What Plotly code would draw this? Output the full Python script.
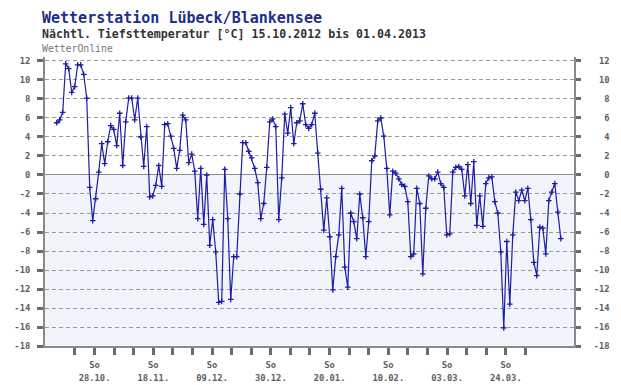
import pandas as pd
import plotly.graph_objects as go

# ---------------- data ----------------
START = "2012-10-15"
temps = [
    5.5, 5.8, 6.6, 11.7, 11.2, 8.7, 9.3, 11.6, 11.6, 10.6,
    8.1, -1.3, -4.8, -2.5, 0.3, 3.3, 1.2, 3.5, 5.2, 4.8,
    3.1, 6.5, 1.0, 5.6, 8.1, 8.1, 5.8, 8.1, 4.0, 0.9,
    5.1, -2.3, -2.2, -1.1, 1.0, -1.2, 5.3, 5.4, 4.1, 2.8,
    0.7, 2.6, 6.3, 5.8, 1.3, 2.2, 0.4, -4.6, 0.7, -5.2,
    0.0, -7.4, -4.7, -8.1, -13.4, -13.3, 0.6, -4.6, -13.1, -8.6,
    -8.6, -2.0, 3.4, 3.4, 2.5, 1.8, 0.7, -0.8, -4.6, -3.0,
    0.8, 5.6, 5.9, 5.1, -4.7, -0.3, 6.4, 4.4, 7.1, 3.3,
    5.5, 5.7, 7.5, 5.3, 4.9, 5.3, 6.5, 2.3, -1.5, -5.8,
    -2.4, -6.5, -12.1, -8.6, -6.3, -1.4, -9.7, -11.8, -4.0, -4.9,
    -6.7, -2.0, -4.5, -8.6, -4.9, 1.5, 2.0, 5.7, 6.0, 4.1,
    0.7, -4.2, 0.4, 0.2, -0.4, -1.0, -1.2, -2.8, -8.6, -8.3,
    -1.4, -3.0, -10.4, -3.5, -0.1, -0.4, -0.4, 0.3, -0.9, -1.3,
    -6.3, -6.2, 0.3, 0.8, 0.9, 0.6, -2.2, 1.1, -3.0, 1.4,
    -5.3, -2.2, -5.4, -0.9, -0.3, -0.2, -2.8, -4.0, -8.1, -16.1,
    -7.0, -13.6, -6.3, -1.8, -2.7, -1.6, -2.7, -1.4, -4.7, -9.2,
    -10.6, -5.5, -5.6, -8.3, -2.7, -1.8, -0.9, -3.9, -6.7,
]
dates = pd.date_range(START, periods=len(temps), freq="D")

y_ticks = list(range(-18, 13, 2))
sundays = pd.date_range("2012-10-21", "2013-03-31", freq="7D")
weekday_label = "So"
# the original axis spreads its calendar over ~180 days while the data spans 168
AXIS_SPAN_DAYS = 180.2

t0 = dates[0]
data_span = (dates[-1] - t0).days
tick_pos = [t0 + pd.Timedelta(days=0.5 + (s - t0).days * data_span / AXIS_SPAN_DAYS) for s in sundays]
tick_so = [weekday_label if k % 3 == 1 else "" for k in range(len(sundays))]
tick_date = [s.strftime("%d.%m.") if k % 3 == 1 else "" for k, s in enumerate(sundays)]

x_range = [t0 - pd.Timedelta(days=3.9), t0 + pd.Timedelta(days=172.4)]
y_range = [-18, 12.42]

LINE = "#1c1ca6"
AX = "#6a6a6a"
FONT = "DejaVu Sans Mono"

fig = go.Figure()
fig.add_trace(go.Scatter(
    x=dates, y=temps, mode="lines+markers",
    line=dict(color=LINE, width=1.2),
    marker=dict(symbol="cross-thin", size=4, line=dict(color=LINE, width=1.3)),
    showlegend=False, hoverinfo="x+y",
))
fig.add_trace(go.Scatter(x=dates, y=temps, mode="none", xaxis="x2", yaxis="y2",
                         showlegend=False, hoverinfo="skip"))

ytext = [f"{v:>3}".replace(" ", "\u00a0") for v in y_ticks]
tickfont = dict(family=FONT, size=8.8, color="#5e5e5e", weight="bold")

# the page body has an 8px default margin, so the figure is sized to fit in the window
fig.update_layout(
    width=613, height=377,
    margin=dict(l=37, r=47, t=49, b=39, autoexpand=False),
    paper_bgcolor="white", plot_bgcolor="white",
    xaxis=dict(
        range=x_range, type="date", tickvals=tick_pos, ticktext=tick_so,
        ticks="outside", ticklen=7, tickwidth=3, tickcolor=AX,
        showgrid=False, showline=True, linecolor="#8a8a8a", linewidth=2,
        tickfont=tickfont, ticklabelstandoff=2, zeroline=False, automargin=False,
    ),
    xaxis2=dict(
        range=x_range, type="date", overlaying="x", side="bottom", anchor="y",
        tickvals=tick_pos, ticktext=tick_date, ticks="", showgrid=False,
        showline=False, tickfont=tickfont, ticklabelstandoff=25, zeroline=False,
        automargin=False,
    ),
    yaxis=dict(
        range=y_range, tickvals=y_ticks, ticktext=ytext,
        ticks="outside", ticklen=6, tickwidth=3, tickcolor=AX,
        showgrid=True, gridcolor="#9a9a9a", gridwidth=1, griddash="4px,3px",
        zeroline=True, zerolinecolor="#8c8c8c", zerolinewidth=1,
        showline=True, linecolor="#8a8a8a", linewidth=2,
        tickfont=tickfont, ticklabelstandoff=5, automargin=False,
    ),
    yaxis2=dict(
        range=y_range, overlaying="y", side="right", anchor="x",
        tickvals=y_ticks, ticktext=ytext,
        ticks="outside", ticklen=5, tickwidth=3, tickcolor=AX,
        showgrid=False, zeroline=False,
        showline=True, linecolor="#8a8a8a", linewidth=2,
        tickfont=tickfont, ticklabelstandoff=11, automargin=False,
    ),
    shapes=[dict(type="rect", xref="paper", x0=0, x1=1, yref="y", y0=-18, y1=0,
                 fillcolor="#f1f4fa", line=dict(width=0), layer="below")],
    annotations=[
        dict(text="Wetterstation Lübeck/Blankensee", xref="paper", yref="paper",
             x=-0.0095, y=1.134, xanchor="left", yanchor="middle", showarrow=False,
             font=dict(family=FONT, size=15, color="#1e2f86", weight="bold")),
        dict(text="Nächtl. Tiefsttemperatur [°C] 15.10.2012 bis 01.04.2013", xref="paper", yref="paper",
             x=-0.0095, y=1.078, xanchor="left", yanchor="middle", showarrow=False,
             font=dict(family=FONT, size=11.6, color="#333333", weight="bold")),
        dict(text="WetterOnline", xref="paper", yref="paper",
             x=-0.0095, y=1.029, xanchor="left", yanchor="middle", showarrow=False,
             font=dict(family=FONT, size=9.8, color="#777777")),
    ],
)

fig.write_html("out.html")
